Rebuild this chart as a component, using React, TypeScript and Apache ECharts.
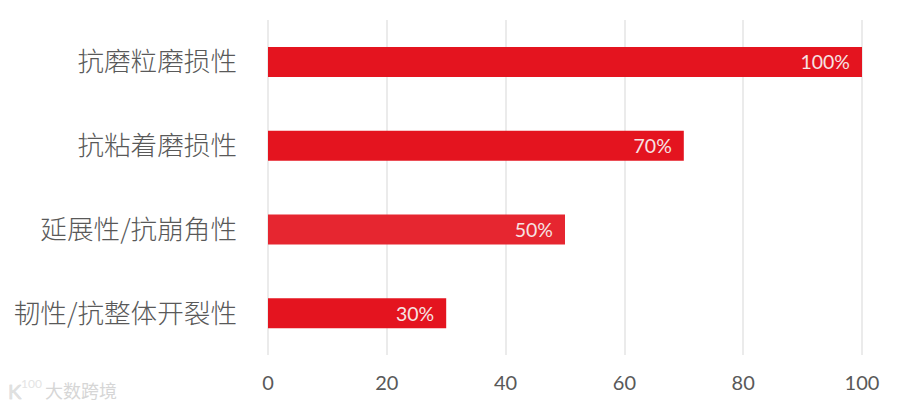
import React, { useEffect, useRef } from "react";
import * as echarts from "echarts";

const categories = ["抗磨粒磨损性", "抗粘着磨损性", "延展性/抗崩角性", "韧性/抗整体开裂性"];
const values = [100, 70, 50, 30];
const barColors = ["#e4141f", "#e4141f", "#e62630", "#e4141f"];
const xTicks = { min: 0, max: 100, interval: 20 };
const watermarkText = "大数跨境";
const logoText = "K";
const logoSup = "100";

export default function App() {
  const ref = useRef<HTMLDivElement>(null);
  useEffect(() => {
    const chart = echarts.init(ref.current!, null, { renderer: "svg" });
    chart.setOption({
      animation: false,
      backgroundColor: "#ffffff",
      grid: { left: 268, right: 38, top: 20, bottom: 51, containLabel: false },
      xAxis: {
        type: "value",
        min: xTicks.min,
        max: xTicks.max,
        interval: xTicks.interval,
        axisLine: { show: false },
        axisTick: { show: false },
        axisLabel: { color: "#595959", fontSize: 20, fontFamily: "Lato", margin: 17 },
        splitLine: { show: true, lineStyle: { color: "#e4e4e4", width: 1.5 } },
      },
      yAxis: {
        type: "category",
        inverse: true,
        data: categories,
        axisLine: { show: false },
        axisTick: { show: false },
        axisLabel: {
          color: "#595959",
          fontSize: 26.6,
          fontFamily: "Noto Sans CJK SC",
          fontWeight: 300,
          margin: 31,
          verticalAlign: "bottom",
          lineHeight: 4,
        },
        splitLine: { show: false },
      },
      series: [
        {
          type: "bar",
          barWidth: 30,
          data: values.map((v, i) => ({ value: v, itemStyle: { color: barColors[i] } })),
          label: {
            show: true,
            position: "insideRight",
            distance: 12,
            color: "#f6e3e3",
            fontSize: 19.5,
            fontFamily: "Lato",
            formatter: (p: any) => `${p.value}%`,
          },
        },
      ],
      graphic: [
        { type: "text", x: 8, y: 381, style: { text: logoText, fill: "#e0e0e0", stroke: "#c8c8c8", lineWidth: 0.4, font: "20px Lato" } },
        { type: "text", x: 21, y: 377, style: { text: logoSup, fill: "#e4e4e4", font: "12px Lato" } },
        { type: "text", x: 45, y: 381, style: { text: watermarkText, fill: "#d6d6d6", font: "18px 'Noto Sans CJK SC'" } },
      ],
    });
    return () => chart.dispose();
  }, []);
  return <div ref={ref} style={{ position: "fixed", left: 0, top: 0, width: 900, height: 406 }} />;
}
